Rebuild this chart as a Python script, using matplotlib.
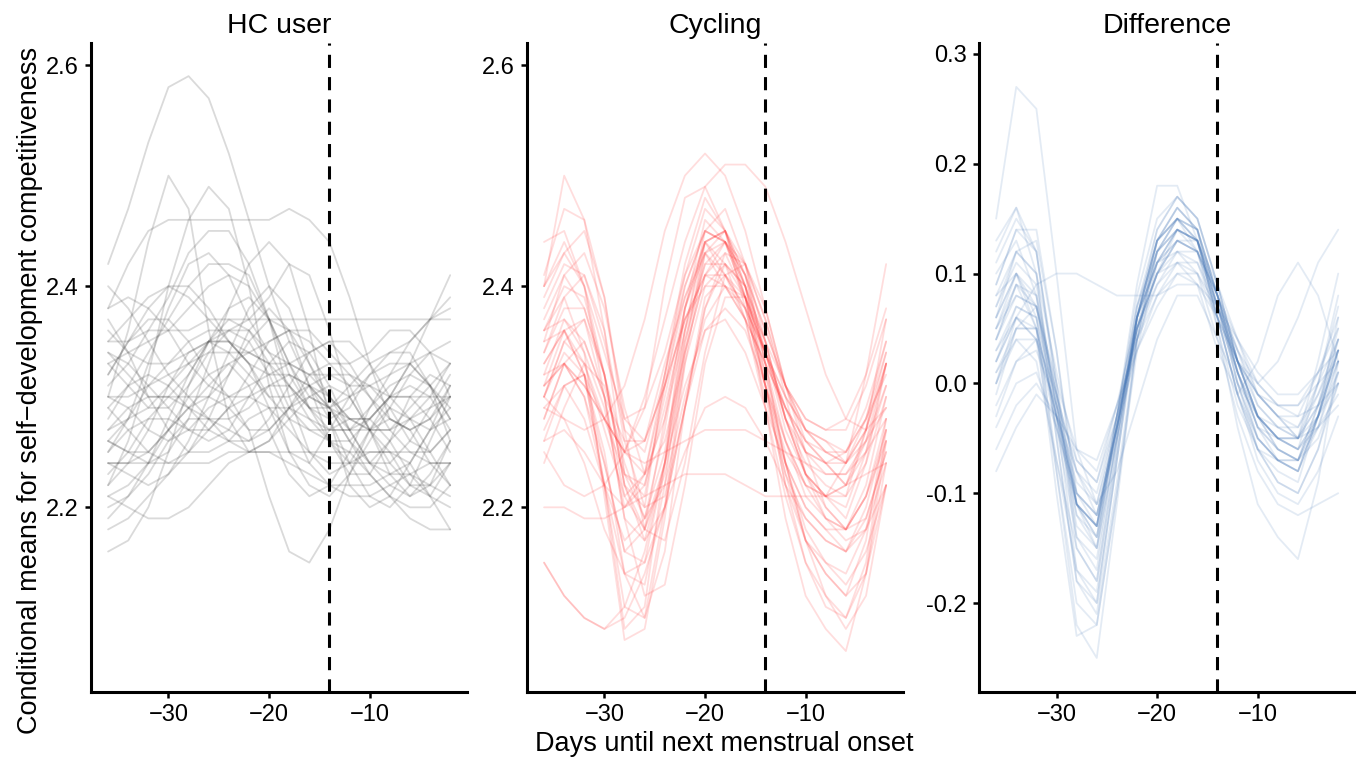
from matplotlib import pyplot as plt
import numpy as np

plt.rcParams['font.family'] = ['Liberation Sans', 'DejaVu Sans']

# days until next menstrual onset (2-day steps)
days = [-36, -34, -32, -30, -28, -26, -24, -22, -20, -18, -16, -14, -12, -10, -8, -6, -4, -2]
onset_line = -14

# HC user draws
hc_draws = [
    [2.42, 2.47, 2.53, 2.58, 2.59, 2.57, 2.52, 2.46, 2.40, 2.35, 2.31, 2.29, 2.28, 2.27, 2.25, 2.22, 2.21, 2.24],
    [2.30, 2.36, 2.44, 2.50, 2.47, 2.36, 2.28, 2.25, 2.26, 2.29, 2.31, 2.30, 2.27, 2.24, 2.22, 2.21, 2.23, 2.26],
    [2.22, 2.26, 2.32, 2.40, 2.46, 2.49, 2.47, 2.40, 2.31, 2.25, 2.24, 2.27, 2.30, 2.31, 2.29, 2.26, 2.25, 2.27],
    [2.38, 2.42, 2.45, 2.46, 2.46, 2.46, 2.46, 2.46, 2.46, 2.47, 2.46, 2.44, 2.39, 2.33, 2.28, 2.27, 2.28, 2.30],
    [2.33, 2.31, 2.29, 2.29, 2.31, 2.34, 2.36, 2.36, 2.34, 2.31, 2.28, 2.26, 2.26, 2.28, 2.30, 2.33, 2.37, 2.41],
    [2.26, 2.28, 2.31, 2.33, 2.35, 2.36, 2.36, 2.37, 2.39, 2.42, 2.41, 2.36, 2.30, 2.27, 2.27, 2.29, 2.31, 2.33],
    [2.16, 2.17, 2.20, 2.25, 2.31, 2.35, 2.37, 2.36, 2.33, 2.29, 2.27, 2.27, 2.28, 2.28, 2.26, 2.23, 2.21, 2.20],
    [2.30, 2.29, 2.27, 2.26, 2.27, 2.29, 2.30, 2.27, 2.21, 2.16, 2.15, 2.18, 2.23, 2.27, 2.29, 2.28, 2.25, 2.22],
    [2.35, 2.35, 2.36, 2.36, 2.36, 2.37, 2.37, 2.37, 2.37, 2.37, 2.37, 2.37, 2.37, 2.37, 2.37, 2.37, 2.37, 2.37],
    [2.24, 2.23, 2.22, 2.23, 2.26, 2.30, 2.34, 2.38, 2.40, 2.38, 2.33, 2.29, 2.27, 2.27, 2.28, 2.27, 2.24, 2.22],
    [2.25, 2.28, 2.33, 2.38, 2.42, 2.43, 2.41, 2.37, 2.34, 2.33, 2.34, 2.35, 2.35, 2.33, 2.30, 2.28, 2.27, 2.28],
    [2.40, 2.38, 2.35, 2.32, 2.30, 2.30, 2.32, 2.35, 2.37, 2.36, 2.33, 2.30, 2.28, 2.28, 2.30, 2.33, 2.34, 2.33],
    [2.21, 2.20, 2.19, 2.19, 2.20, 2.22, 2.24, 2.25, 2.25, 2.24, 2.23, 2.22, 2.22, 2.22, 2.23, 2.23, 2.22, 2.21],
    [2.28, 2.31, 2.34, 2.37, 2.40, 2.42, 2.42, 2.41, 2.37, 2.30, 2.25, 2.23, 2.24, 2.27, 2.30, 2.31, 2.30, 2.27],
    [2.34, 2.33, 2.31, 2.29, 2.27, 2.26, 2.27, 2.30, 2.33, 2.35, 2.34, 2.31, 2.27, 2.24, 2.23, 2.24, 2.27, 2.31],
    [2.24, 2.24, 2.25, 2.27, 2.29, 2.31, 2.33, 2.34, 2.33, 2.31, 2.29, 2.28, 2.29, 2.32, 2.34, 2.34, 2.31, 2.26],
    [2.19, 2.21, 2.24, 2.28, 2.32, 2.35, 2.35, 2.33, 2.30, 2.28, 2.27, 2.26, 2.25, 2.23, 2.21, 2.19, 2.18, 2.18],
    [2.32, 2.35, 2.38, 2.40, 2.40, 2.38, 2.35, 2.33, 2.32, 2.32, 2.31, 2.29, 2.26, 2.24, 2.24, 2.26, 2.29, 2.32],
    [2.26, 2.25, 2.24, 2.25, 2.28, 2.33, 2.38, 2.42, 2.44, 2.42, 2.36, 2.28, 2.22, 2.20, 2.21, 2.24, 2.27, 2.29],
    [2.37, 2.34, 2.30, 2.27, 2.25, 2.25, 2.26, 2.28, 2.29, 2.29, 2.28, 2.27, 2.27, 2.28, 2.30, 2.30, 2.28, 2.25],
    [2.30, 2.30, 2.31, 2.32, 2.33, 2.34, 2.34, 2.34, 2.33, 2.33, 2.32, 2.32, 2.31, 2.31, 2.30, 2.30, 2.30, 2.30],
    [2.23, 2.25, 2.28, 2.30, 2.30, 2.28, 2.26, 2.25, 2.26, 2.28, 2.30, 2.31, 2.30, 2.27, 2.24, 2.22, 2.22, 2.24],
    [2.35, 2.37, 2.39, 2.40, 2.39, 2.37, 2.35, 2.34, 2.35, 2.36, 2.36, 2.34, 2.32, 2.31, 2.32, 2.35, 2.37, 2.38],
    [2.29, 2.27, 2.25, 2.24, 2.25, 2.28, 2.32, 2.36, 2.38, 2.36, 2.31, 2.26, 2.23, 2.23, 2.26, 2.30, 2.32, 2.31],
    [2.27, 2.29, 2.30, 2.30, 2.29, 2.28, 2.28, 2.29, 2.31, 2.32, 2.31, 2.28, 2.24, 2.21, 2.20, 2.22, 2.26, 2.30],
    [2.18, 2.19, 2.21, 2.23, 2.25, 2.27, 2.29, 2.30, 2.29, 2.27, 2.25, 2.24, 2.24, 2.25, 2.25, 2.24, 2.21, 2.18],
    [2.33, 2.34, 2.35, 2.36, 2.38, 2.40, 2.41, 2.40, 2.37, 2.33, 2.30, 2.29, 2.30, 2.32, 2.33, 2.33, 2.31, 2.28],
    [2.25, 2.27, 2.28, 2.28, 2.27, 2.27, 2.29, 2.32, 2.35, 2.36, 2.35, 2.33, 2.33, 2.34, 2.36, 2.36, 2.34, 2.30],
    [2.38, 2.39, 2.38, 2.36, 2.33, 2.31, 2.30, 2.31, 2.32, 2.33, 2.32, 2.30, 2.28, 2.27, 2.27, 2.28, 2.29, 2.30],
    [2.24, 2.24, 2.24, 2.24, 2.24, 2.24, 2.25, 2.25, 2.25, 2.25, 2.25, 2.25, 2.25, 2.25, 2.25, 2.25, 2.24, 2.24],
    [2.31, 2.33, 2.36, 2.39, 2.43, 2.45, 2.45, 2.42, 2.37, 2.32, 2.29, 2.29, 2.31, 2.33, 2.34, 2.35, 2.37, 2.39],
    [2.21, 2.22, 2.24, 2.27, 2.29, 2.30, 2.29, 2.27, 2.27, 2.29, 2.32, 2.33, 2.31, 2.27, 2.23, 2.21, 2.22, 2.26],
    [2.36, 2.34, 2.33, 2.33, 2.34, 2.35, 2.36, 2.35, 2.32, 2.28, 2.24, 2.22, 2.21, 2.21, 2.22, 2.23, 2.24, 2.24],
    [2.27, 2.28, 2.29, 2.31, 2.33, 2.35, 2.35, 2.33, 2.29, 2.25, 2.22, 2.21, 2.23, 2.26, 2.29, 2.32, 2.34, 2.35],
    [2.29, 2.31, 2.32, 2.31, 2.29, 2.27, 2.26, 2.26, 2.28, 2.31, 2.34, 2.35, 2.33, 2.30, 2.28, 2.27, 2.28, 2.31],
    [2.34, 2.32, 2.30, 2.30, 2.32, 2.35, 2.38, 2.39, 2.37, 2.33, 2.29, 2.27, 2.27, 2.29, 2.31, 2.32, 2.31, 2.29],
    [2.22, 2.24, 2.27, 2.31, 2.34, 2.35, 2.34, 2.32, 2.30, 2.30, 2.31, 2.32, 2.32, 2.30, 2.27, 2.25, 2.25, 2.27],
    [2.26, 2.25, 2.25, 2.27, 2.30, 2.32, 2.33, 2.31, 2.27, 2.23, 2.21, 2.22, 2.25, 2.29, 2.32, 2.33, 2.31, 2.28],
    [2.32, 2.35, 2.37, 2.37, 2.35, 2.32, 2.30, 2.30, 2.31, 2.31, 2.29, 2.26, 2.24, 2.24, 2.26, 2.28, 2.30, 2.33],
    [2.20, 2.21, 2.23, 2.26, 2.28, 2.28, 2.27, 2.26, 2.27, 2.29, 2.30, 2.29, 2.26, 2.23, 2.21, 2.20, 2.20, 2.22],
]

# Cycling draws
cyc_draws = [
    [2.40, 2.50, 2.46, 2.39, 2.28, 2.26, 2.33, 2.39, 2.43, 2.41, 2.39, 2.34, 2.30, 2.27, 2.26, 2.24, 2.27, 2.33],
    [2.30, 2.28, 2.27, 2.28, 2.31, 2.37, 2.45, 2.50, 2.52, 2.50, 2.45, 2.38, 2.31, 2.26, 2.24, 2.25, 2.29, 2.35],
    [2.25, 2.22, 2.21, 2.22, 2.25, 2.30, 2.37, 2.44, 2.49, 2.51, 2.51, 2.49, 2.44, 2.38, 2.32, 2.28, 2.27, 2.29],
    [2.33, 2.36, 2.32, 2.22, 2.09, 2.11, 2.24, 2.38, 2.46, 2.44, 2.39, 2.31, 2.22, 2.17, 2.14, 2.12, 2.17, 2.28],
    [2.30, 2.35, 2.33, 2.27, 2.21, 2.23, 2.32, 2.41, 2.47, 2.45, 2.39, 2.29, 2.19, 2.12, 2.09, 2.07, 2.14, 2.26],
    [2.15, 2.12, 2.10, 2.09, 2.10, 2.14, 2.20, 2.25, 2.29, 2.30, 2.29, 2.26, 2.22, 2.19, 2.17, 2.16, 2.18, 2.22],
    [2.20, 2.20, 2.19, 2.19, 2.20, 2.21, 2.22, 2.23, 2.23, 2.23, 2.22, 2.21, 2.21, 2.21, 2.21, 2.22, 2.23, 2.24],
    [2.40, 2.44, 2.40, 2.32, 2.22, 2.20, 2.32, 2.42, 2.48, 2.45, 2.42, 2.35, 2.28, 2.23, 2.21, 2.19, 2.24, 2.33],
    [2.35, 2.41, 2.38, 2.32, 2.23, 2.21, 2.31, 2.39, 2.44, 2.42, 2.40, 2.34, 2.29, 2.25, 2.24, 2.22, 2.26, 2.33],
    [2.28, 2.33, 2.30, 2.24, 2.16, 2.18, 2.28, 2.38, 2.44, 2.41, 2.38, 2.31, 2.24, 2.20, 2.18, 2.16, 2.20, 2.27],
    [2.32, 2.37, 2.34, 2.29, 2.20, 2.22, 2.30, 2.38, 2.43, 2.40, 2.39, 2.34, 2.28, 2.25, 2.24, 2.22, 2.25, 2.31],
    [2.44, 2.45, 2.40, 2.30, 2.19, 2.17, 2.24, 2.35, 2.42, 2.42, 2.37, 2.30, 2.23, 2.19, 2.17, 2.16, 2.19, 2.25],
    [2.26, 2.31, 2.32, 2.28, 2.23, 2.22, 2.29, 2.37, 2.41, 2.40, 2.37, 2.33, 2.29, 2.26, 2.25, 2.24, 2.27, 2.33],
    [2.36, 2.40, 2.39, 2.32, 2.22, 2.18, 2.23, 2.33, 2.40, 2.42, 2.39, 2.34, 2.28, 2.24, 2.22, 2.21, 2.24, 2.30],
    [2.31, 2.33, 2.30, 2.22, 2.14, 2.13, 2.22, 2.35, 2.43, 2.44, 2.39, 2.31, 2.23, 2.17, 2.15, 2.14, 2.18, 2.26],
    [2.38, 2.42, 2.41, 2.35, 2.27, 2.25, 2.32, 2.40, 2.45, 2.44, 2.41, 2.36, 2.31, 2.27, 2.26, 2.25, 2.28, 2.34],
    [2.29, 2.31, 2.28, 2.22, 2.17, 2.19, 2.27, 2.38, 2.44, 2.45, 2.40, 2.32, 2.24, 2.18, 2.15, 2.13, 2.16, 2.22],
    [2.34, 2.38, 2.38, 2.32, 2.25, 2.23, 2.28, 2.36, 2.42, 2.44, 2.41, 2.36, 2.31, 2.28, 2.27, 2.27, 2.31, 2.37],
    [2.24, 2.29, 2.33, 2.31, 2.24, 2.19, 2.22, 2.30, 2.37, 2.40, 2.38, 2.34, 2.29, 2.25, 2.23, 2.23, 2.26, 2.31],
    [2.37, 2.41, 2.43, 2.38, 2.29, 2.23, 2.26, 2.34, 2.41, 2.44, 2.42, 2.37, 2.31, 2.27, 2.25, 2.24, 2.28, 2.35],
    [2.30, 2.35, 2.37, 2.32, 2.22, 2.17, 2.20, 2.29, 2.38, 2.42, 2.40, 2.35, 2.28, 2.23, 2.21, 2.20, 2.25, 2.33],
    [2.33, 2.36, 2.33, 2.28, 2.25, 2.29, 2.40, 2.48, 2.49, 2.45, 2.38, 2.31, 2.25, 2.22, 2.21, 2.22, 2.27, 2.34],
    [2.27, 2.31, 2.32, 2.25, 2.14, 2.10, 2.16, 2.29, 2.39, 2.41, 2.37, 2.29, 2.21, 2.15, 2.12, 2.10, 2.14, 2.24],
    [2.36, 2.37, 2.35, 2.30, 2.26, 2.26, 2.31, 2.37, 2.40, 2.40, 2.37, 2.33, 2.29, 2.26, 2.24, 2.24, 2.26, 2.29],
    [2.41, 2.47, 2.46, 2.36, 2.23, 2.19, 2.25, 2.36, 2.44, 2.45, 2.41, 2.34, 2.27, 2.23, 2.21, 2.21, 2.27, 2.37],
    [2.29, 2.28, 2.24, 2.18, 2.14, 2.15, 2.20, 2.29, 2.36, 2.38, 2.36, 2.31, 2.26, 2.22, 2.19, 2.18, 2.21, 2.27],
    [2.34, 2.39, 2.41, 2.36, 2.26, 2.20, 2.21, 2.29, 2.38, 2.43, 2.42, 2.37, 2.30, 2.23, 2.19, 2.17, 2.18, 2.24],
    [2.30, 2.34, 2.32, 2.22, 2.11, 2.10, 2.20, 2.34, 2.44, 2.45, 2.40, 2.31, 2.22, 2.15, 2.11, 2.10, 2.15, 2.27],
    [2.32, 2.33, 2.31, 2.28, 2.25, 2.26, 2.31, 2.37, 2.41, 2.41, 2.38, 2.34, 2.30, 2.27, 2.25, 2.25, 2.28, 2.32],
    [2.39, 2.43, 2.45, 2.39, 2.27, 2.18, 2.17, 2.24, 2.34, 2.41, 2.42, 2.38, 2.31, 2.25, 2.20, 2.18, 2.19, 2.25],
    [2.26, 2.27, 2.25, 2.22, 2.20, 2.23, 2.31, 2.40, 2.45, 2.44, 2.40, 2.33, 2.26, 2.21, 2.19, 2.18, 2.21, 2.28],
    [2.35, 2.36, 2.32, 2.24, 2.16, 2.15, 2.24, 2.36, 2.45, 2.47, 2.42, 2.33, 2.24, 2.17, 2.14, 2.12, 2.14, 2.22],
    [2.40, 2.43, 2.40, 2.34, 2.28, 2.29, 2.34, 2.41, 2.45, 2.44, 2.40, 2.35, 2.31, 2.28, 2.27, 2.28, 2.32, 2.38],
    [2.28, 2.33, 2.35, 2.30, 2.19, 2.12, 2.13, 2.22, 2.33, 2.39, 2.39, 2.35, 2.28, 2.23, 2.20, 2.18, 2.22, 2.30],
    [2.31, 2.36, 2.37, 2.30, 2.21, 2.18, 2.24, 2.34, 2.41, 2.43, 2.39, 2.32, 2.26, 2.22, 2.21, 2.24, 2.32, 2.42],
    [2.15, 2.12, 2.10, 2.09, 2.11, 2.16, 2.24, 2.31, 2.36, 2.37, 2.34, 2.29, 2.24, 2.20, 2.18, 2.18, 2.21, 2.26],
    [2.36, 2.39, 2.34, 2.21, 2.08, 2.09, 2.19, 2.33, 2.43, 2.45, 2.41, 2.33, 2.24, 2.17, 2.12, 2.09, 2.12, 2.22],
    [2.31, 2.33, 2.31, 2.28, 2.25, 2.24, 2.25, 2.26, 2.27, 2.27, 2.27, 2.26, 2.25, 2.24, 2.23, 2.23, 2.25, 2.28],
]

# Difference draws (cycling - HC)
diff_draws = [
    [0.15, 0.27, 0.25, 0.10, -0.06, -0.11, -0.08, -0.02, 0.04, 0.08, 0.08, 0.04, 0.00, -0.03, -0.05, -0.05, -0.03, 0.00],
    [0.02, 0.06, 0.09, 0.10, 0.10, 0.09, 0.08, 0.08, 0.08, 0.09, 0.09, 0.07, 0.04, 0.01, -0.01, -0.01, 0.01, 0.03],
    [0.06, 0.10, 0.07, -0.03, -0.13, -0.15, -0.03, 0.09, 0.18, 0.18, 0.13, 0.06, -0.01, -0.05, -0.07, -0.08, -0.03, 0.03],
    [0.05, 0.10, 0.06, -0.08, -0.22, -0.25, -0.11, 0.04, 0.13, 0.16, 0.14, 0.08, 0.01, -0.04, -0.06, -0.07, -0.02, 0.05],
    [0.02, 0.07, 0.06, -0.04, -0.14, -0.16, -0.05, 0.06, 0.13, 0.16, 0.14, 0.05, -0.04, -0.11, -0.14, -0.16, -0.09, 0.02],
    [0.09, 0.14, 0.12, 0.00, -0.11, -0.14, -0.04, 0.06, 0.11, 0.14, 0.13, 0.07, 0.02, -0.01, -0.03, -0.05, -0.01, 0.04],
    [0.00, 0.05, 0.05, -0.03, -0.10, -0.12, -0.04, 0.05, 0.10, 0.12, 0.11, 0.06, 0.01, -0.03, -0.05, -0.06, -0.03, 0.02],
    [0.12, 0.16, 0.12, -0.01, -0.15, -0.18, -0.06, 0.06, 0.13, 0.16, 0.14, 0.07, 0.00, -0.05, -0.07, -0.08, -0.03, 0.04],
    [-0.02, 0.02, 0.03, -0.02, -0.07, -0.09, -0.03, 0.04, 0.09, 0.12, 0.12, 0.08, 0.03, -0.02, -0.04, -0.05, -0.02, 0.03],
    [0.07, 0.11, 0.09, -0.02, -0.12, -0.15, -0.05, 0.06, 0.13, 0.15, 0.14, 0.08, 0.01, -0.04, -0.05, -0.05, 0.00, 0.07],
    [0.04, 0.09, 0.08, -0.02, -0.11, -0.13, -0.03, 0.07, 0.13, 0.15, 0.13, 0.07, 0.01, -0.03, -0.04, -0.04, 0.00, 0.04],
    [-0.06, -0.02, 0.00, -0.03, -0.08, -0.11, -0.04, 0.03, 0.08, 0.11, 0.11, 0.07, 0.02, -0.03, -0.05, -0.06, -0.04, -0.01],
    [0.10, 0.13, 0.08, -0.05, -0.18, -0.21, -0.09, 0.04, 0.12, 0.15, 0.13, 0.06, -0.01, -0.06, -0.08, -0.09, -0.03, 0.06],
    [0.03, 0.06, 0.04, -0.04, -0.11, -0.13, -0.04, 0.05, 0.10, 0.13, 0.13, 0.09, 0.04, -0.01, -0.03, -0.04, -0.01, 0.03],
    [0.06, 0.12, 0.13, 0.03, -0.10, -0.13, -0.03, 0.07, 0.12, 0.14, 0.13, 0.08, 0.02, -0.02, -0.04, -0.05, -0.02, 0.02],
    [0.01, 0.04, 0.02, -0.07, -0.15, -0.18, -0.06, 0.06, 0.13, 0.15, 0.14, 0.08, 0.00, -0.06, -0.09, -0.10, -0.06, 0.00],
    [0.08, 0.12, 0.10, 0.01, -0.07, -0.09, -0.02, 0.06, 0.11, 0.13, 0.12, 0.07, 0.02, -0.01, -0.02, -0.02, 0.01, 0.05],
    [-0.01, 0.05, 0.07, -0.01, -0.11, -0.15, -0.05, 0.05, 0.11, 0.14, 0.13, 0.08, 0.01, -0.05, -0.07, -0.08, -0.04, 0.02],
    [0.05, 0.08, 0.07, -0.01, -0.08, -0.10, -0.03, 0.05, 0.10, 0.13, 0.12, 0.08, 0.04, 0.00, -0.02, -0.03, -0.02, 0.00],
    [0.11, 0.15, 0.12, 0.00, -0.14, -0.17, -0.05, 0.07, 0.14, 0.17, 0.15, 0.09, 0.02, -0.03, -0.05, -0.06, 0.00, 0.08],
    [0.02, 0.06, 0.05, -0.03, -0.12, -0.14, -0.04, 0.06, 0.12, 0.14, 0.13, 0.06, -0.01, -0.07, -0.10, -0.11, -0.08, -0.03],
    [-0.04, 0.00, 0.01, -0.04, -0.10, -0.12, -0.04, 0.05, 0.10, 0.13, 0.12, 0.08, 0.03, -0.01, -0.03, -0.03, 0.01, 0.06],
    [0.07, 0.12, 0.10, -0.03, -0.17, -0.20, -0.07, 0.06, 0.14, 0.17, 0.15, 0.09, 0.02, -0.03, -0.05, -0.05, 0.02, 0.10],
    [0.03, 0.07, 0.06, -0.02, -0.11, -0.13, -0.04, 0.05, 0.10, 0.11, 0.10, 0.06, 0.02, 0.00, 0.02, 0.06, 0.11, 0.14],
    [0.05, 0.09, 0.07, -0.02, -0.11, -0.13, -0.04, 0.06, 0.11, 0.12, 0.10, 0.04, -0.03, -0.08, -0.11, -0.12, -0.11, -0.10],
    [0.00, 0.04, 0.04, -0.03, -0.09, -0.11, -0.03, 0.05, 0.09, 0.11, 0.09, 0.03, -0.01, 0.02, 0.08, 0.11, 0.08, 0.02],
    [0.08, 0.10, 0.05, -0.07, -0.17, -0.19, -0.07, 0.05, 0.12, 0.14, 0.13, 0.07, 0.01, -0.04, -0.06, -0.07, -0.02, 0.04],
    [0.04, 0.08, 0.07, 0.00, -0.06, -0.08, -0.02, 0.04, 0.08, 0.10, 0.09, 0.06, 0.02, -0.01, -0.03, -0.05, -0.04, -0.02],
    [0.13, 0.16, 0.10, -0.05, -0.18, -0.20, -0.07, 0.06, 0.13, 0.15, 0.12, 0.05, -0.02, -0.06, -0.07, -0.08, -0.03, 0.03],
    [-0.03, 0.02, 0.04, -0.01, -0.08, -0.12, -0.05, 0.04, 0.10, 0.14, 0.13, 0.08, 0.02, -0.03, -0.06, -0.07, -0.05, 0.00],
    [0.06, 0.10, 0.08, -0.01, -0.10, -0.12, -0.04, 0.06, 0.12, 0.15, 0.14, 0.08, 0.02, -0.03, -0.05, -0.06, -0.03, 0.01],
    [0.01, 0.05, 0.05, -0.03, -0.11, -0.13, -0.03, 0.08, 0.15, 0.17, 0.15, 0.09, 0.02, -0.03, -0.06, -0.07, -0.04, 0.01],
    [-0.08, -0.04, -0.01, -0.03, -0.06, -0.07, -0.02, 0.03, 0.07, 0.10, 0.10, 0.07, 0.03, 0.00, -0.02, -0.02, 0.00, 0.02],
    [0.09, 0.14, 0.14, 0.03, -0.11, -0.14, -0.04, 0.06, 0.11, 0.13, 0.12, 0.07, 0.01, -0.04, -0.07, -0.07, -0.03, 0.03],
    [0.04, 0.09, 0.05, -0.10, -0.23, -0.22, -0.10, 0.04, 0.12, 0.15, 0.13, 0.07, 0.00, -0.05, -0.07, -0.07, -0.03, 0.03],
    [0.00, 0.06, 0.04, -0.08, -0.20, -0.22, -0.10, 0.03, 0.11, 0.14, 0.12, 0.06, -0.01, -0.06, -0.09, -0.10, -0.06, 0.01],
]

titles = ["HC user", "Cycling", "Difference"]
colors = ["#333333", "#ff2020", "#3f72b5"]
alphas = [0.18, 0.15, 0.14]
yticks = [[2.2, 2.4, 2.6], [2.2, 2.4, 2.6], [-0.2, -0.1, 0.0, 0.1, 0.2, 0.3]]
ytick_labels = [["2.2", "2.4", "2.6"], ["2.2", "2.4", "2.6"],
                ["-0.2", "-0.1", "0.0", "0.1", "0.2", "0.3"]]
ylims = [(2.033, 2.62), (2.033, 2.62), (-0.281, 0.31)]
lefts = [0.0671, 0.3886, 0.7220]

fig = plt.figure(figsize=(13.56, 7.59), dpi=100)

for j, draws in enumerate([hc_draws, cyc_draws, diff_draws]):
    ax = fig.add_axes([lefts[j], 0.0883, 0.2775, 0.8551])
    for d in draws:
        ax.plot(days, d, color=colors[j], alpha=alphas[j], lw=1.3,
                solid_joinstyle='round', solid_capstyle='round')
    ax.axvline(onset_line, color='black', lw=2.2, linestyle=(0, (4.3, 3.0)))
    ax.set_xlim(-37.7, -0.3)
    ax.set_ylim(*ylims[j])
    ax.set_xticks([-30, -20, -10])
    ax.set_yticks(yticks[j])
    ax.set_yticklabels(ytick_labels[j])
    ax.set_title(titles[j], fontsize=20.5, pad=7)
    ax.spines['top'].set_visible(False)
    ax.spines['right'].set_visible(False)
    ax.spines['left'].set_linewidth(2.2)
    ax.spines['bottom'].set_linewidth(2.2)
    ax.tick_params(labelsize=17, length=4, width=1.8, pad=5)

fig.text(0.022, 0.485, "Conditional means for self\u2212development competitiveness",
         rotation=90, ha='center', va='center', fontsize=19.5)
fig.text(0.534, 0.02, "Days until next menstrual onset", ha='center', va='center', fontsize=19.5)

plt.savefig("out.png", dpi=100)
